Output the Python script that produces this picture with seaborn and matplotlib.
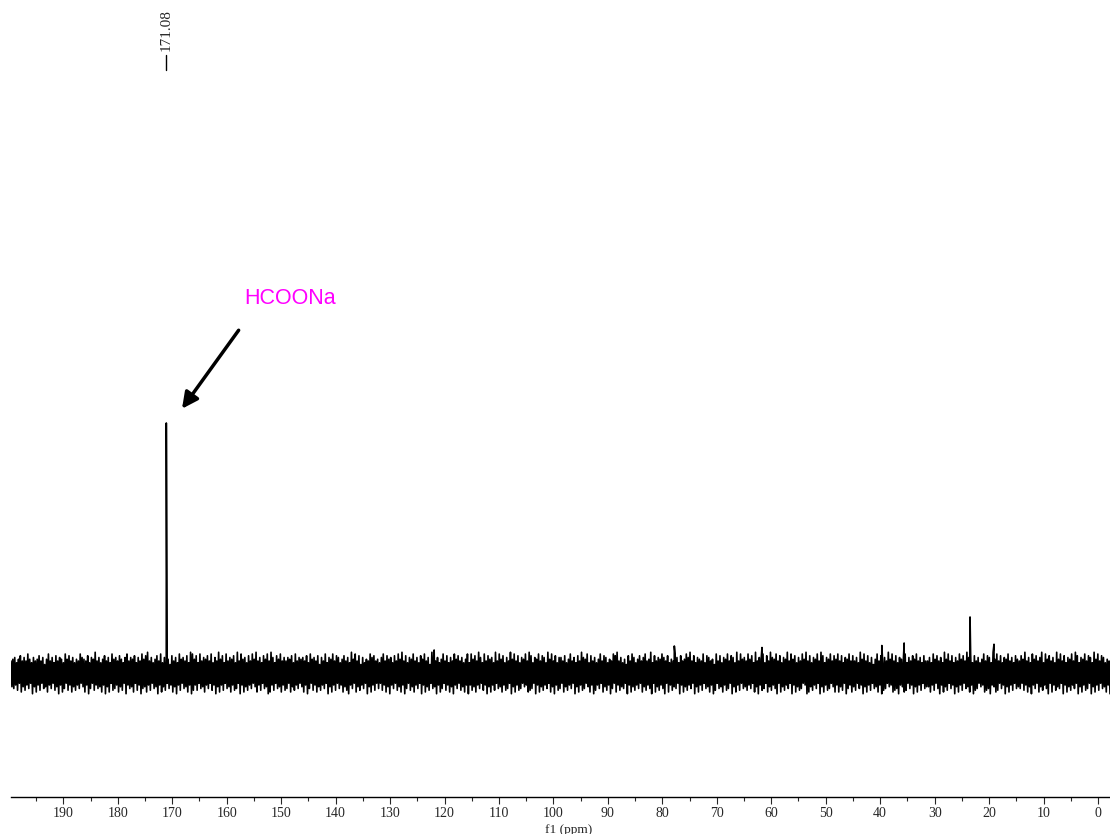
import numpy as np
import pandas as pd
import matplotlib
matplotlib.use('Agg')
import matplotlib.pyplot as plt
import seaborn as sns

# ppm window shown (NMR axis runs high -> low)
ppm_left = 199.6
ppm_right = -2.2

# resolved signals: position (ppm) and height relative to the 171.08 peak
peak_ppm = [171.08, 121.9, 77.8, 61.7, 39.7, 35.6, 23.5, 19.1]
peak_height = [1.0, 0.092, 0.108, 0.102, 0.11, 0.12, 0.224, 0.115]

# baseline noise, upper / lower excursion per column (0.02 + digit * 0.007)
noise_top = (
    "4563574648536457462584637465385746354865473659463"
    "5746385647536846573648579463574836452746385647398"
    "5738465748364957384657394856374859463758496375846"
    "4657384656473856472648365847635746395847263548674"
    "5368475637485947365846375846297463584736485746358"
    "3857496384756394857364958473658497365847639584736"
    "6473584637496583746358476354879463527486357468459"
    "3746586473548637458694736548376452847365847639485"
    "6485739465837496584736594857364859473658497365847"
    "5847365847463958473625847364958473654836475846374"
    "4638574639584736485749683746358476395847365846375"
    "4759463857469385746395847365849736584763958476354"
)
noise_bottom = (
    "5647385746395847365846375948637485746358496374658"
    "4958376485739465837496584736594857364859473658497"
    "4736584637495847365847639485746358473659847365847"
    "6385746358496374857463958473648579463857463958473"
    "6374859463758496375846394857365948637485946375849"
    "4758463749584736584763958476354876394857463859476"
    "3857463958476358497463857496384756394857463857469"
    "3857469384756394857463958473658497365847639584736"
    "5746385947638574693857463948576349857463958476358"
    "4857396485736495847365849763548769458736495847365"
    "5847369485736495847365849763548769458736495847365"
    "6374859463857469384756394857463958476395847365849"
)

major_ticks = list(range(190, -1, -10))
minor_ticks = list(range(195, 0, -10))

peak_label = "171.08"
compound = "HCOONa"


def build_spectrum():
    n = min(len(noise_top), len(noise_bottom))
    amp = []
    for t, b in zip(noise_top[:n], noise_bottom[:n]):
        amp += [0.02 + int(t) * 0.007, -(0.02 + int(b) * 0.007)]
    base = pd.DataFrame({'ppm': np.linspace(ppm_left, ppm_right, 2 * n), 'y': amp})
    peaks = pd.DataFrame({'ppm': peak_ppm, 'y': peak_height})
    return pd.concat([base, peaks], ignore_index=True).sort_values('ppm', ascending=False)


sns.set_style('white')
serif = ['Liberation Serif', 'DejaVu Serif']

fig = plt.figure(figsize=(11.1, 8.34), dpi=100)
ax = fig.add_axes([11 / 1110, 37 / 834, 1099 / 1110, 797 / 834])

spec = build_spectrum()
sns.lineplot(data=spec, x='ppm', y='y', sort=False, estimator=None,
             color='black', lw=1.2, ax=ax)

ax.set_xlim(ppm_left, ppm_right)
ax.set_ylim(-0.496, 2.692)

for side in ['top', 'left', 'right']:
    ax.spines[side].set_visible(False)
ax.spines['bottom'].set_color('black')
ax.spines['bottom'].set_linewidth(1.0)
ax.set_yticks([])
ax.set_ylabel('')

ax.set_xticks(major_ticks)
ax.set_xticks(minor_ticks, minor=True)
ax.tick_params(axis='x', which='major', length=5, width=0.8, direction='out',
               labelsize=10, pad=2, bottom=True)
ax.tick_params(axis='x', which='minor', length=3, width=0.8, direction='out', bottom=True)
for lab in ax.get_xticklabels():
    lab.set_family(serif)

ax.set_xlabel('f1 (ppm)', family=serif, fontsize=9.5, labelpad=2)
ax.xaxis.set_label_coords((569 - 11) / 1099, -0.034)

# peak pick label at the top
ax.text(peak_ppm[0], 2.488, peak_label, rotation=90, ha='center', va='bottom',
        family=serif, fontsize=11)
ax.plot([peak_ppm[0], peak_ppm[0]], [2.412, 2.472], color='black', lw=1.0)

# compound annotation
ax.annotate('', xy=(168.5, 1.048), xytext=(157.5, 1.38),
            arrowprops=dict(arrowstyle='-|>', color='black', lw=2.5, mutation_scale=24))
ax.text(148.3, 1.5, compound, color='#FF00FF', fontsize=15.5,
        family=['Liberation Sans', 'DejaVu Sans'], ha='center', va='center')

fig.savefig('out.png', dpi=100)
